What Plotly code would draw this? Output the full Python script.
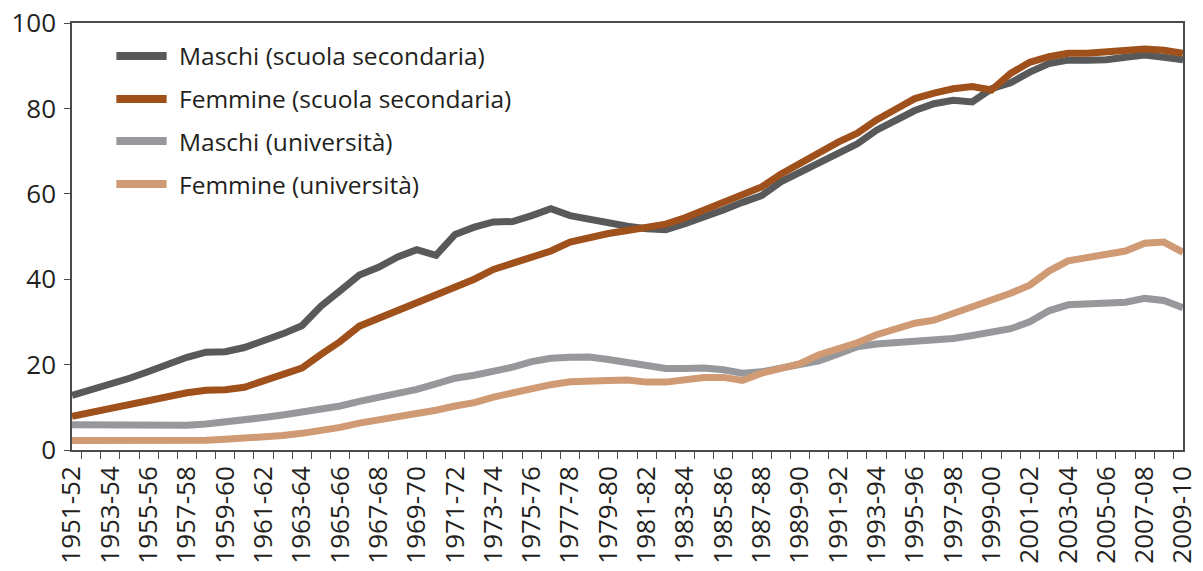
import plotly.graph_objects as go

# Anni scolastici / accademici
anni = [f"{y}-{str(y + 1)[-2:]}" for y in range(1951, 2010)]

# Tassi di scolarità (%)
maschi_secondaria = [
    12.8, 14.0, 15.3, 16.8, 18.4, 20.1, 21.7, 22.9, 23.0, 24.0,
    25.5, 27.2, 29.1, 33.7, 37.3, 41.0, 42.8, 45.2, 46.9, 45.6,
    50.5, 52.2, 53.4, 53.5, 54.9, 56.5, 54.9, 54.0, 53.3, 52.4,
    51.8, 51.6, 53.0, 54.4, 56.2, 58.0, 59.6, 62.8, 65.1, 67.4,
    69.8, 71.7, 74.9, 77.2, 79.5, 81.1, 81.9, 81.5, 84.6, 86.0,
    88.5, 90.5, 91.3, 91.3, 91.4, 92.0, 92.5, 92.0, 91.4,
]
femmine_secondaria = [
    7.9, 8.8, 9.8, 10.9, 11.8, 12.8, 13.4, 14.0, 14.1, 14.7,
    16.2, 17.8, 19.2, 22.4, 25.4, 29.0, 30.8, 32.8, 34.2, 36.2,
    38.1, 40.0, 42.3, 43.7, 45.5, 46.6, 48.7, 49.9, 50.7, 51.4,
    52.0, 52.9, 54.4, 56.2, 58.0, 60.0, 61.6, 64.6, 67.1, 69.8,
    72.1, 74.2, 77.3, 79.8, 82.3, 83.6, 84.6, 85.1, 84.3, 88.2,
    90.8, 92.1, 92.9, 92.9, 93.2, 93.3, 93.9, 93.6, 92.9,
]
maschi_universita = [
    5.9, 5.9, 5.7, 5.5, 5.5, 5.6, 5.8, 6.1, 6.5, 7.0,
    7.6, 8.2, 8.8, 9.4, 10.3, 11.4, 12.2, 13.0, 14.2, 15.5,
    16.8, 17.5, 18.4, 19.4, 20.7, 21.5, 21.7, 21.8, 21.2, 20.6,
    19.6, 19.1, 19.1, 19.2, 18.8, 18.0, 18.3, 19.2, 20.0, 20.9,
    22.5, 24.2, 24.8, 25.1, 25.6, 25.9, 26.1, 26.8, 27.6, 28.4,
    30.0, 32.6, 34.0, 34.2, 34.3, 34.6, 35.5, 35.0, 33.3,
]
femmine_universita = [
    2.2, 2.2, 2.1, 2.0, 2.0, 2.1, 2.2, 2.3, 2.5, 2.7,
    3.0, 3.4, 3.9, 4.5, 5.3, 6.3, 7.0, 7.8, 8.5, 9.3,
    10.3, 11.1, 12.4, 13.5, 14.5, 15.3, 16.0, 16.3, 16.3, 16.4,
    15.9, 15.9, 16.4, 17.0, 17.0, 16.3, 18.0, 19.2, 20.2, 22.3,
    23.7, 25.1, 27.0, 28.5, 29.7, 30.4, 32.0, 33.3, 35.0, 36.7,
    38.6, 41.9, 44.3, 45.2, 46.1, 46.6, 48.4, 48.7, 46.3,
]

serie = [
    ("Maschi (scuola secondaria)", maschi_secondaria, "#58595b"),
    ("Femmine (scuola secondaria)", femmine_secondaria, "#a0501a"),
    ("Maschi (università)", maschi_universita, "#97989c"),
    ("Femmine (università)", femmine_universita, "#cf9a74"),
]

FONT = "'Open Sans', Lato, sans-serif"
TEXT = "#231f20"
AXIS = "#4a4a4a"

fig = go.Figure()
for nome, valori, colore in serie:
    fig.add_trace(go.Scatter(
        x=anni, y=valori, mode="lines", name=nome,
        line=dict(color=colore, width=7),
        showlegend=False,
    ))

# Legenda disegnata come campioni di linea + testo
W, H = 1203, 571
ML, MR, MT, MB = 72, 4, 23, 121
pw, ph = W - ML - MR, H - MT - MB


def px_x(p):
    return (p - ML) / pw


def px_y(p):
    return (H - MB - p) / ph


leg_y = [56, 99, 141, 184]
for (nome, _, colore), yy in zip(serie, leg_y):
    fig.add_shape(type="line", xref="paper", yref="paper",
                  x0=px_x(117), x1=px_x(168), y0=px_y(yy), y1=px_y(yy),
                  line=dict(color=colore, width=8))
    fig.add_annotation(xref="paper", yref="paper", x=px_x(179), y=px_y(yy),
                       text=nome, showarrow=False, xanchor="left",
                       yanchor="middle",
                       font=dict(family=FONT, size=24.5, color=TEXT))

tick_text = [a if i % 2 == 0 else "" for i, a in enumerate(anni)]

fig.update_layout(
    width=W, height=H,
    margin=dict(l=ML, r=MR, t=MT, b=MB),
    paper_bgcolor="white", plot_bgcolor="white",
    font=dict(family=FONT, color=TEXT),
    xaxis=dict(
        type="category", tickmode="array", tickvals=anni, ticktext=tick_text,
        tickson="boundaries", ticks="outside", ticklen=7, tickcolor=AXIS,
        tickangle=-90, tickfont=dict(family=FONT, size=26, color=TEXT),
        ticklabelstandoff=4,
        showline=True, linecolor=AXIS, linewidth=1.5, mirror=True,
        showgrid=False, zeroline=False,
    ),
    yaxis=dict(
        range=[0, 100], tickvals=[0, 20, 40, 60, 80, 100],
        ticks="outside", ticklen=6, tickcolor=AXIS,
        tickfont=dict(family=FONT, size=26, color=TEXT),
        ticklabelstandoff=3,
        showline=True, linecolor=AXIS, linewidth=1.5, mirror=True,
        showgrid=False, zeroline=False,
    ),
)

fig.write_html("out.html")
